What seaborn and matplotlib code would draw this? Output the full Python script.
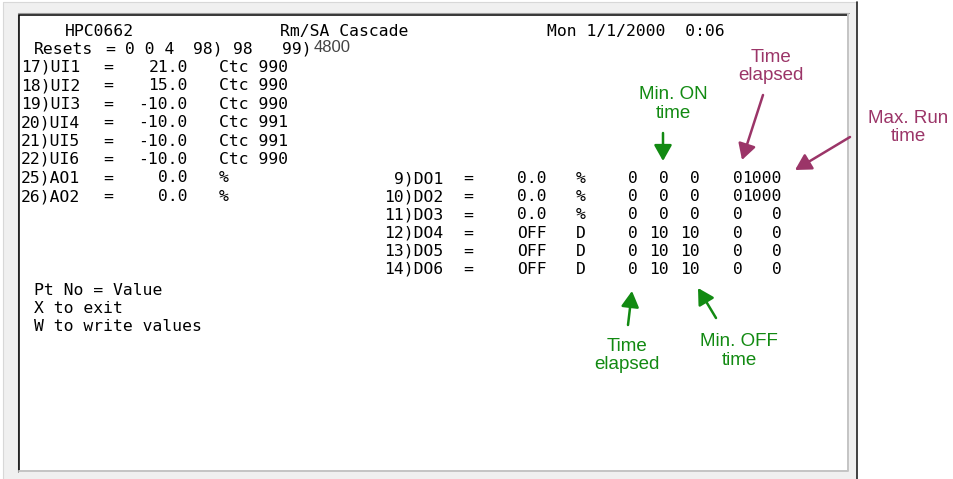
import matplotlib
matplotlib.use("Agg")
import matplotlib.pyplot as plt
import matplotlib.patches as mpatches
import seaborn as sns

sns.set_theme(style="white")

# header line
station = "HPC0662"
title = "Rm/SA Cascade"
stamp = "Mon 1/1/2000  0:06"
resets = ["Resets", "=", "0 0 4", "98)", "98", "99)"]
resets_extra = "4800"

# analog points (left block)
ui_labels = ["17)UI1", "18)UI2", "19)UI3", "20)UI4", "21)UI5", "22)UI6", "25)AO1", "26)AO2"]
ui_values = [21.0, 15.0, -10.0, -10.0, -10.0, -10.0, 0.0, 0.0]
ui_units = ["Ctc 990", "Ctc 990", "Ctc 990", "Ctc 991", "Ctc 991", "Ctc 990", "%", "%"]

# digital outputs (right block)
do_labels = ["9)DO1", "10)DO2", "11)DO3", "12)DO4", "13)DO5", "14)DO6"]
do_values = ["0.0", "0.0", "0.0", "OFF", "OFF", "OFF"]
do_units = ["%", "%", "%", "D", "D", "D"]
do_elapsed = [0, 0, 0, 0, 0, 0]
do_min_on = [0, 0, 0, 10, 10, 10]
do_min_off = [0, 0, 0, 10, 10, 10]
do_run_elapsed = [0, 0, 0, 0, 0, 0]
do_max_run = [1000, 1000, 0, 0, 0, 0]

help_lines = ["Pt No = Value", "X to exit", "W to write values"]

GREEN = "#128a12"
PURPLE = "#9b3568"
MONO = dict(family="DejaVu Sans Mono", fontsize=11.8, color="black")
SANS = ["Liberation Sans", "DejaVu Sans"]

fig = plt.figure(figsize=(9.54, 4.79), dpi=100)
ax = fig.add_axes([0, 0, 1, 1])
ax.set_xlim(0, 954)
ax.set_ylim(479, 0)
ax.axis("off")

# window frame
ax.add_patch(mpatches.Rectangle((3, 2), 854, 480, fc="#f0f0f0", ec="none"))
ax.plot([3, 3, 857], [479, 2, 2], color="#d8d8d8", lw=0.8)
ax.plot([857, 857], [2, 479], color="#222222", lw=1.2)
ax.add_patch(mpatches.Rectangle((19, 14), 829, 457, fc="white", ec="none"))
ax.plot([18, 18, 849], [472, 13, 13], color="#9a9a9a", lw=0.8)
ax.plot([19.5, 19.5, 848], [471, 14.5, 14.5], color="black", lw=1.1)
ax.plot([19, 848, 848], [471, 471, 14], color="#c4c4c4", lw=1.4)

# header
ax.text(65, 31, station, ha="left", va="center", **MONO)
ax.text(280, 31, title, ha="left", va="center", **MONO)
ax.text(547, 31, stamp, ha="left", va="center", **MONO)
for tok, x in zip(resets, [34, 105, 125, 193, 233, 282]):
    ax.text(x, 49, tok, ha="left", va="center", **MONO)
ax.text(314, 47.5, resets_extra, ha="left", va="center", family=SANS,
        fontsize=12, color="#444444")

# left block
for i, (lab, val, unit) in enumerate(zip(ui_labels, ui_values, ui_units)):
    y = 67 + i * 18.5
    ax.text(21, y, lab, ha="left", va="center", **MONO)
    ax.text(108, y, "=", ha="center", va="center", **MONO)
    ax.text(188, y, f"{val:.1f}", ha="right", va="center", **MONO)
    ax.text(219, y, unit, ha="left", va="center", **MONO)

# right block
cols = zip(do_labels, do_values, do_units, do_elapsed, do_min_on,
           do_min_off, do_run_elapsed, do_max_run)
for i, (lab, val, unit, el, mon, moff, rel, mrun) in enumerate(cols):
    y = 178.5 + i * 18.2
    ax.text(443, y, lab, ha="right", va="center", **MONO)
    ax.text(468, y, "=", ha="center", va="center", **MONO)
    ax.text(517, y, val, ha="left", va="center", **MONO)
    ax.text(581, y, unit, ha="center", va="center", **MONO)
    ax.text(638, y, str(el), ha="right", va="center", **MONO)
    ax.text(669, y, str(mon), ha="right", va="center", **MONO)
    ax.text(700, y, str(moff), ha="right", va="center", **MONO)
    ax.text(742.5, y, str(rel), ha="right", va="center", **MONO)
    ax.text(782, y, str(mrun), ha="right", va="center", **MONO)

for i, line in enumerate(help_lines):
    ax.text(34, 290.5 + i * 18, line, ha="left", va="center", **MONO)

# annotations
notes = [
    ("Min. ON\ntime", (673, 104), (663, 133), (663, 161), GREEN),
    ("Time\nelapsed", (771, 66.5), (763, 95), (742, 160), PURPLE),
    ("Max. Run\ntime", (908, 127.5), (850, 137), (795, 170), PURPLE),
    ("Time\nelapsed", (627, 355.5), (628, 325), (632, 291), GREEN),
    ("Min. OFF\ntime", (739, 351), (716, 318), (698, 288), GREEN),
]
for label, pos, start, tip, color in notes:
    ax.text(pos[0], pos[1], label, ha="center", va="center", multialignment="center",
            family=SANS, fontsize=13.5, color=color, linespacing=1.1)
    ax.annotate("", xy=tip, xytext=start,
                arrowprops=dict(arrowstyle="-|>,head_length=0.8,head_width=0.45",
                                lw=1.8, color=color, shrinkA=0, shrinkB=0))

fig.savefig("out.png", dpi=100)
